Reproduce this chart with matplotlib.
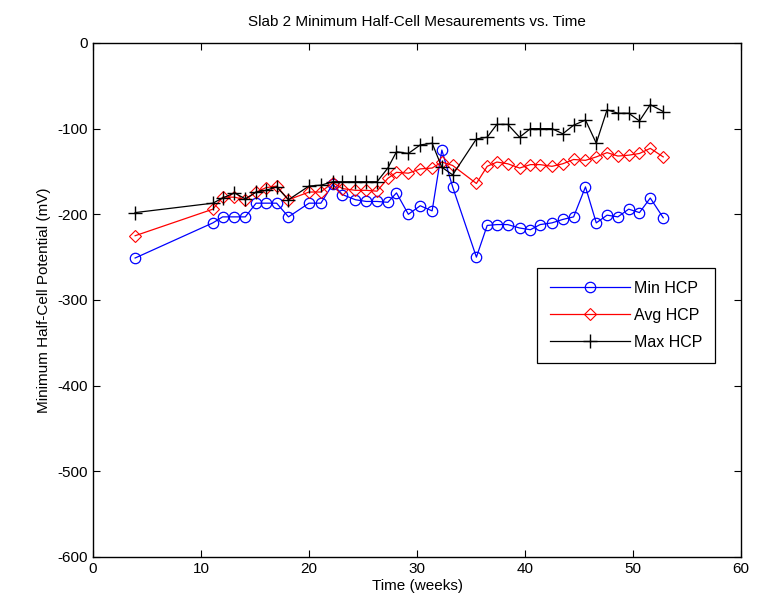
import numpy as np
import matplotlib
matplotlib.use("Agg")
import matplotlib.pyplot as plt

plt.rcParams["font.family"] = ["Liberation Sans", "DejaVu Sans"]
plt.rcParams["axes.unicode_minus"] = False

weeks = [3.9, 11.1, 12.0, 13.1, 14.1, 15.1, 16.0, 17.0, 18.1, 20.0, 21.1, 22.2, 23.1,
         24.3, 25.3, 26.3, 27.3, 28.1, 29.2, 30.3, 31.4, 32.3, 33.3, 35.5, 36.5, 37.4,
         38.4, 39.5, 40.5, 41.4, 42.5, 43.5, 44.5, 45.6, 46.6, 47.6, 48.6, 49.6, 50.6,
         51.6, 52.8]

min_hcp = [-251, -210, -203, -203, -203, -187, -187, -187, -203, -187, -187, -165,
           -177, -183, -185, -185, -186, -175, -200, -190, -196, -125, -168, -250,
           -213, -212, -212, -216, -218, -212, -210, -206, -203, -168, -210, -201,
           -203, -194, -198, -181, -204]

avg_hcp = [-225, -194, -180, -180, -183, -174, -169, -167, -183, -174, -174, -163,
           -170, -172, -172, -173, -158, -151, -152, -147, -146, -139, -143, -164,
           -144, -139, -141, -146, -142, -142, -144, -141, -136, -137, -133, -128,
           -132, -131, -129, -123, -133]

max_hcp = [-198, -187, -181, -175, -182, -174, -172, -168, -183, -167, -166, -162,
           -162, -162, -162, -162, -146, -127, -129, -119, -117, -145, -154, -112,
           -110, -95, -95, -110, -100, -100, -100, -106, -96, -90, -117, -78, -82,
           -82, -91, -72, -80]

fig = plt.figure(figsize=(7.65, 6.13), dpi=100)
ax = fig.add_axes([0.1216, 0.0914, 0.847, 0.8385])

ax.plot(weeks, min_hcp, "-o", color="#0000ff", lw=0.9, ms=7.5, mfc="none", mew=0.9,
        label="Min HCP")
ax.plot(weeks, avg_hcp, "-D", color="#ff0000", lw=0.9, ms=6.5, mfc="none", mew=0.8,
        label="Avg HCP")
ax.plot(weeks, max_hcp, "-+", color="black", lw=0.9, ms=10, mew=1.0,
        label="Max HCP")

ax.set_xlim(0, 60)
ax.set_ylim(-600, 0)
ax.set_xticks(np.arange(0, 61, 10))
ax.set_yticks(np.arange(-600, 1, 100))
ax.tick_params(direction="in", top=True, right=True, length=5, labelsize=11)
for s in ax.spines.values():
    s.set_linewidth(1.0)

ax.set_title("Slab 2 Minimum Half-Cell Mesaurements vs. Time", fontsize=11, pad=12)
ax.set_xlabel("Time (weeks)", fontsize=11, labelpad=2)
ax.set_ylabel("Minimum Half-Cell Potential (mV)", fontsize=11, labelpad=5)

leg = ax.legend(loc="upper left", bbox_to_anchor=(0.685, 0.562), borderaxespad=0,
                fontsize=11.5, fancybox=False, edgecolor="black", framealpha=1,
                borderpad=0.8, handlelength=5.0, handletextpad=0.3, labelspacing=0.75)
leg.get_frame().set_linewidth(0.9)

fig.savefig("out.png", dpi=100)
